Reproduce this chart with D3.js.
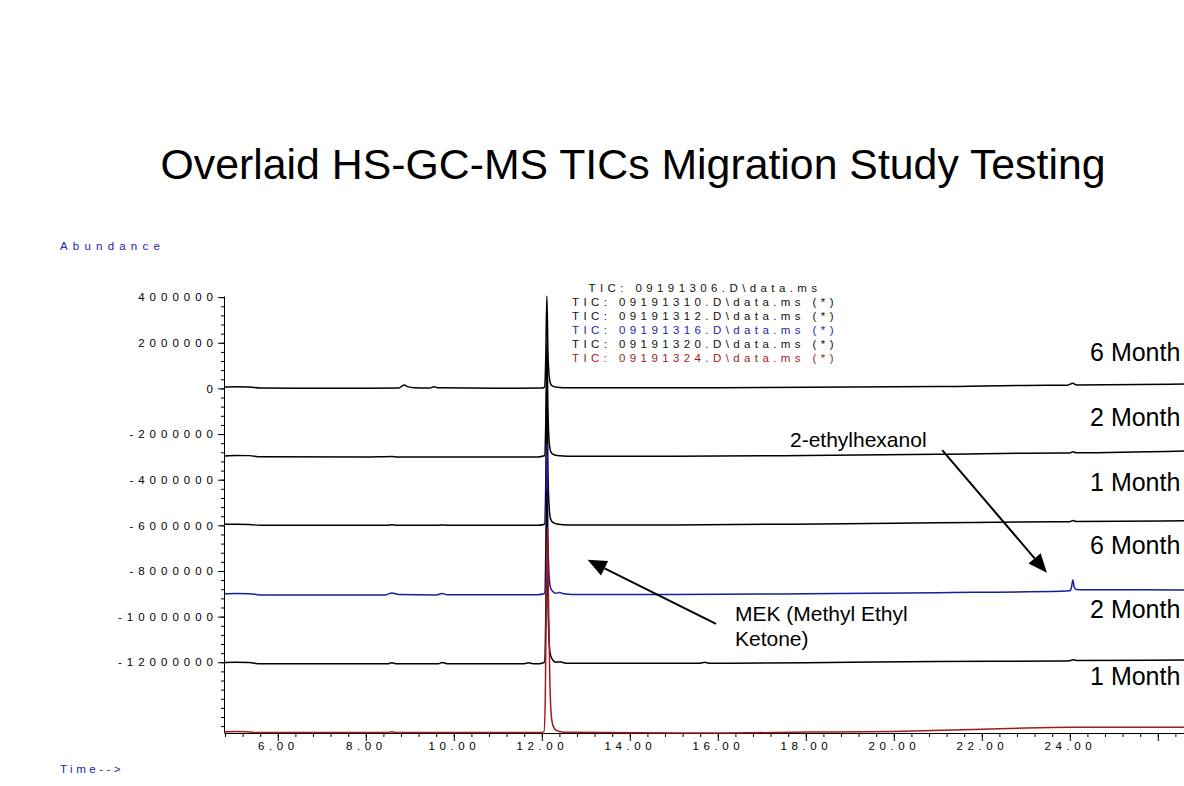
<!DOCTYPE html>
<html>
<head>
<meta charset="utf-8">
<script src="https://cdn.jsdelivr.net/npm/d3@7"></script>
<style>
  body { margin: 0; background: #fff; }
  svg text { font-family: "Liberation Sans", Arial, Helvetica, sans-serif; }
</style>
</head>
<body>
<svg id="chart" width="1184" height="786"></svg>
<script>
// ---- Chromatogram data: [retention time (min), abundance relative to the trace baseline] ----
const trace06 = [[4.8,60000],[5.05,70000],[5.35,65000],[5.6,20000],[6.5,10000],[8.0,10000],[8.75,15000],[8.87,150000],[8.95,80000],[9.1,30000],[9.45,20000],[9.55,70000],[9.65,25000],[11.0,10000],[12.0,15000],[12.06,60000],[12.09,1300000],[12.115,4050000],[12.14,1600000],[12.17,500000],[12.2,200000],[12.25,100000],[12.35,50000],[12.6,25000],[15,30000],[17,40000],[19,60000],[21,80000],[23.5,140000],[23.95,140000],[24.07,230000],[24.15,150000],[26.6,190000]];
const trace10 = [[4.8,40000],[5.05,60000],[5.35,55000],[5.6,10000],[8.0,0],[8.6,20000],[8.7,0],[11.9,0],[12.06,50000],[12.09,1500000],[12.115,5000000],[12.14,2000000],[12.17,600000],[12.2,250000],[12.25,120000],[12.35,60000],[12.6,30000],[15,30000],[18,60000],[21,110000],[23.8,170000],[24.0,170000],[24.07,230000],[24.15,180000],[26.6,260000]];
const trace12 = [[4.8,50000],[5.05,50000],[5.35,40000],[5.6,0],[8.5,0],[8.59,25000],[8.7,0],[9.65,0],[9.73,20000],[9.85,0],[11.9,0],[12.06,50000],[12.09,1800000],[12.115,6600000],[12.14,2400000],[12.17,700000],[12.2,280000],[12.25,130000],[12.35,60000],[12.6,20000],[15,20000],[18.3,60000],[21,110000],[23.8,160000],[24.0,160000],[24.07,210000],[24.15,170000],[26.6,200000]];
const trace16 = [[4.8,0],[5.05,10000],[5.35,0],[5.6,-50000],[8.45,-50000],[8.59,40000],[8.75,-30000],[9.6,-50000],[9.73,15000],[9.85,-40000],[11.9,-40000],[12.06,10000],[12.09,1800000],[12.115,6620000],[12.14,2400000],[12.17,700000],[12.2,260000],[12.25,100000],[12.32,20000],[12.41,60000],[12.5,0],[12.7,-30000],[15,-30000],[18,0],[21,50000],[23.8,110000],[24.0,130000],[24.04,300000],[24.07,610000],[24.1,300000],[24.14,190000],[24.4,180000],[26.6,170000]];
const trace20 = [[4.8,-10000],[5.05,0],[5.35,-10000],[5.6,-70000],[8.5,-70000],[8.59,-20000],[8.7,-70000],[9.65,-70000],[9.73,-10000],[9.85,-60000],[11.6,-60000],[11.7,-20000],[11.8,-60000],[11.95,-60000],[12.06,0],[12.09,2000000],[12.115,7560000],[12.14,2800000],[12.17,800000],[12.2,300000],[12.25,100000],[12.32,0],[12.41,20000],[12.55,-40000],[15.6,-40000],[15.7,0],[15.8,-40000],[18,-20000],[21,30000],[23.8,60000],[24.0,70000],[24.07,110000],[24.15,80000],[26.6,100000]];
const trace24 = [[4.8,-40000],[5.05,-30000],[5.3,-40000],[5.45,-80000],[8.5,-80000],[8.59,-50000],[8.7,-80000],[11.95,-80000],[12.05,-40000],[12.08,1500000],[12.1,5500000],[12.125,8930000],[12.15,6000000],[12.18,2500000],[12.21,800000],[12.25,250000],[12.3,60000],[12.4,-30000],[12.6,-70000],[16,-100000],[18,-60000],[20,-30000],[22,60000],[23,120000],[24,150000],[26.6,150000]];

// Display offset applied to each overlaid run
const traceOffsets = [0, -3000000, -6000000, -9000000, -12000000, -15000000];
const legendLabels = [
  "TIC: 09191306.D\\data.ms",
  "TIC: 09191310.D\\data.ms (*)",
  "TIC: 09191312.D\\data.ms (*)",
  "TIC: 09191316.D\\data.ms (*)",
  "TIC: 09191320.D\\data.ms (*)",
  "TIC: 09191324.D\\data.ms (*)"
];
const traceColors = ["#000000", "#000000", "#000000", "#1c1c9e", "#000000", "#9e1c1c"];
const legendColors = ["#111111", "#111111", "#111111", "#2424aa", "#111111", "#a01c1c"];

// Right-hand sample labels (retention time of text start, abundance of text baseline)
const monthLabels = ["6 Month", "2 Month", "1 Month", "6 Month", "2 Month", "1 Month"];
const monthLabelAbundance = [1200000, -1650000, -4500000, -7260000, -10080000, -13000000];

// Axis tick values and labels
const xTickValues = [6, 8, 10, 12, 14, 16, 18, 20, 22, 24];
const xTickLabels = ["6.00", "8.00", "10.00", "12.00", "14.00", "16.00", "18.00", "20.00", "22.00", "24.00"];
const yTickValues = [4000000, 2000000, 0, -2000000, -4000000, -6000000, -8000000, -10000000, -12000000];
const yTickLabels = ["4000000", "2000000", "0", "-2000000", "-4000000", "-6000000", "-8000000", "-10000000", "-12000000"];

// Peak annotations: text anchor and arrow tail/tip in data units
const annotations = [
  { lines: ["2-ethylhexanol"], t: 17.64, v: -2560000, tail: [21.1, -2700000], tip: [23.48, -8080000] },
  { lines: ["MEK (Methyl Ethyl", "Ketone)"], t: 16.39, v: -10200000, tail: [15.96, -10320000], tip: [13.04, -7510000] }
];

// ---- Layout ----
const svg = d3.select("#chart");
svg.append("rect").attr("width", 1184).attr("height", 786).attr("fill", "#fff");

const x = d3.scaleLinear().domain([4.8, 26.6]).range([225, 1184.2]);
const y = d3.scaleLinear().domain([-15100000, 4050000]).range([733, 296]);

// Title
svg.append("text")
  .attr("x", 633).attr("y", 179)
  .attr("text-anchor", "middle")
  .attr("font-size", 42.8)
  .attr("fill", "#000")
  .text("Overlaid HS-GC-MS TICs Migration Study Testing");

// Axis captions
svg.append("text").attr("x", 60).attr("y", 250)
  .attr("font-size", 11.5).attr("letter-spacing", 5.2).attr("fill", "#2424aa")
  .text("Abundance");
svg.append("text").attr("x", 60).attr("y", 773)
  .attr("font-size", 11.5).attr("letter-spacing", 3.5).attr("fill", "#2424aa")
  .text("Time-->");

// ---- Axes ----
const axisStyle = g => {
  g.selectAll("path, line").attr("stroke", "#000").attr("stroke-width", 1);
  g.selectAll("text").attr("font-family", "\"Liberation Sans\", Arial, sans-serif")
    .attr("font-size", 11.5).attr("fill", "#000");
};

// x: minor ticks every 0.4 min, major every 2 min
const xMinor = d3.range(4.8, 26.61, 0.4);
svg.append("g").attr("transform", "translate(0,733)")
  .call(d3.axisBottom(x).tickValues(xMinor).tickSize(4).tickSizeOuter(0).tickFormat(""))
  .call(axisStyle);
svg.append("g").attr("transform", "translate(0,733)")
  .call(d3.axisBottom(x).tickValues([...xTickValues, 26]).tickSize(8).tickSizeOuter(0)
    .tickFormat((d, i) => i < xTickLabels.length ? xTickLabels[i] : ""))
  .call(axisStyle)
  .call(g => g.select(".domain").remove())
  .call(g => g.selectAll("text").attr("letter-spacing", 4.6).attr("dy", "0.55em").attr("y", 11));

// y: minor ticks every 400000, major every 2000000
const yMinor = d3.range(4000000, -15100001, -400000);
svg.append("g").attr("transform", "translate(224,0)")
  .call(d3.axisLeft(y).tickValues(yMinor).tickSize(3).tickSizeOuter(0).tickFormat(""))
  .call(axisStyle);
svg.append("g").attr("transform", "translate(224,0)")
  .call(d3.axisLeft(y).tickValues(yTickValues).tickSize(6).tickSizeOuter(0)
    .tickFormat((d, i) => yTickLabels[i]))
  .call(axisStyle)
  .call(g => g.select(".domain").remove())
  .call(g => g.selectAll("text").attr("letter-spacing", 5).attr("x", -6));

// ---- Traces ----
const traces = [trace06, trace10, trace12, trace16, trace20, trace24];
const line = d3.line()
  .x(d => x(d[0]))
  .y(d => y(d[1]))
  .curve(d3.curveMonotoneX);

traces.forEach((tr, i) => {
  svg.append("path")
    .datum(tr.map(d => [d[0], d[1] + traceOffsets[i]]))
    .attr("d", line)
    .attr("fill", "none")
    .attr("stroke", traceColors[i])
    .attr("stroke-width", 1.5)
    .attr("stroke-linejoin", "round");
});

// ---- Legend ----
const legend = svg.append("g");
legendLabels.forEach((lab, i) => {
  legend.append("text")
    .attr("x", 705).attr("y", 292 + i * 13.9)
    .attr("text-anchor", "middle")
    .attr("font-size", 11.5)
    .attr("letter-spacing", 4.4)
    .attr("fill", legendColors[i])
    .text(lab);
});

// ---- Sample labels ----
monthLabels.forEach((lab, i) => {
  svg.append("text")
    .attr("x", x(24.46)).attr("y", y(monthLabelAbundance[i]))
    .attr("font-size", 25)
    .attr("fill", "#000")
    .text(lab);
});

// ---- Annotations with arrows ----
annotations.forEach(a => {
  const txt = svg.append("text").attr("font-size", 21).attr("fill", "#000");
  a.lines.forEach((l, k) => {
    txt.append("tspan").attr("x", x(a.t)).attr("y", y(a.v) + k * 25).text(l);
  });
  const x0 = x(a.tail[0]), y0 = y(a.tail[1]);
  const x1 = x(a.tip[0]), y1 = y(a.tip[1]);
  const ang = Math.atan2(y1 - y0, x1 - x0);
  const headLen = 19, headHalf = 8;
  const bx = x1 - headLen * Math.cos(ang), by = y1 - headLen * Math.sin(ang);
  svg.append("line")
    .attr("x1", x0).attr("y1", y0).attr("x2", bx).attr("y2", by)
    .attr("stroke", "#000").attr("stroke-width", 2);
  const px = -Math.sin(ang) * headHalf, py = Math.cos(ang) * headHalf;
  svg.append("polygon")
    .attr("points", [[x1, y1], [bx + px, by + py], [bx - px, by - py]].map(p => p.join(",")).join(" "))
    .attr("fill", "#000");
});
</script>
</body>
</html>
